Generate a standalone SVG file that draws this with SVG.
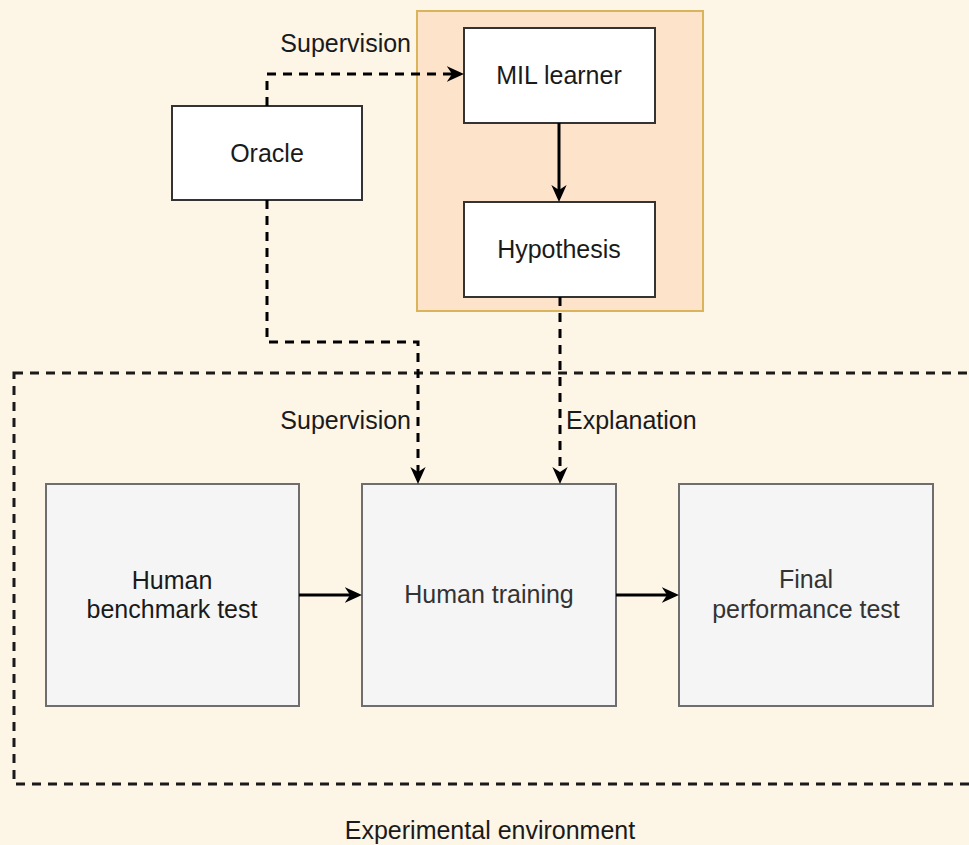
<svg xmlns="http://www.w3.org/2000/svg" width="969" height="845" viewBox="0 0 969 845">
  <style>
    text { font-family: "Liberation Sans", Arial, sans-serif; font-size: 25px; fill: #1a1a1a; }
    .mid { text-anchor: middle; }
    .box { fill: #ffffff; stroke: #333333; stroke-width: 2; }
    .step { fill: #f5f5f5; stroke: #6e6e6e; stroke-width: 2; }
    .step-text { fill: #333333; }
    .flow { fill: none; stroke: #000000; stroke-width: 3; }
    .dash { stroke-dasharray: 9 7; }
  </style>
  <defs>
    <marker id="arrow" viewBox="0 0 10 10" refX="5.9" refY="5" markerWidth="17" markerHeight="17" markerUnits="userSpaceOnUse" orient="auto">
      <path d="M0,0.5 L10,5 L0,9.5 L3,5 Z" fill="#000000"/>
    </marker>
  </defs>

  <!-- page background -->
  <rect x="0" y="0" width="969" height="845" fill="#fdf5e6"/>

  <!-- learner container -->
  <g id="learner-container">
    <rect x="417" y="11" width="286" height="300" fill="#fde3ca" stroke="#d9b45a" stroke-width="2"/>
  </g>

  <!-- experimental environment frame -->
  <g id="environment">
    <rect x="14" y="373" width="1000" height="411" fill="none" stroke="#1a1a1a" stroke-width="3" stroke-dasharray="9 7"/>
    <text class="mid" x="490" y="839">Experimental environment</text>
  </g>

  <g id="oracle">
    <rect class="box" x="172" y="106" width="190" height="94"/>
    <text class="mid" x="267" y="162">Oracle</text>
  </g>

  <g id="mil-learner">
    <rect class="box" x="464" y="28" width="191" height="95"/>
    <text class="mid" x="559" y="84">MIL learner</text>
  </g>

  <g id="hypothesis">
    <rect class="box" x="464" y="202" width="191" height="95"/>
    <text class="mid" x="559" y="258">Hypothesis</text>
  </g>

  <g id="human-benchmark">
    <rect class="step" x="46" y="484" width="253" height="222"/>
    <text class="mid" x="172" y="589">Human</text>
    <text class="mid" x="172" y="618">benchmark test</text>
  </g>

  <g id="human-training">
    <rect class="step" x="362" y="484" width="254" height="222"/>
    <text class="mid step-text" x="489" y="603">Human training</text>
  </g>

  <g id="final-test">
    <rect class="step" x="679" y="484" width="254" height="222"/>
    <text class="mid step-text" x="806" y="588">Final</text>
    <text class="mid step-text" x="806" y="618">performance test</text>
  </g>

  <!-- connectors -->
  <g id="connectors">
    <path class="flow dash" d="M267,106 V74 H457" marker-end="url(#arrow)"/>
    <path class="flow" d="M559,123 V195" marker-end="url(#arrow)"/>
    <path class="flow dash" d="M267,200 V342 H418 V477" marker-end="url(#arrow)"/>
    <path class="flow dash" d="M560,297 V477" marker-end="url(#arrow)"/>
    <path class="flow" d="M299,595 H355" marker-end="url(#arrow)"/>
    <path class="flow" d="M616,595 H672" marker-end="url(#arrow)"/>
    <text x="411" y="52" text-anchor="end">Supervision</text>
    <text x="411" y="429" text-anchor="end">Supervision</text>
    <text x="566" y="429">Explanation</text>
  </g>
</svg>
